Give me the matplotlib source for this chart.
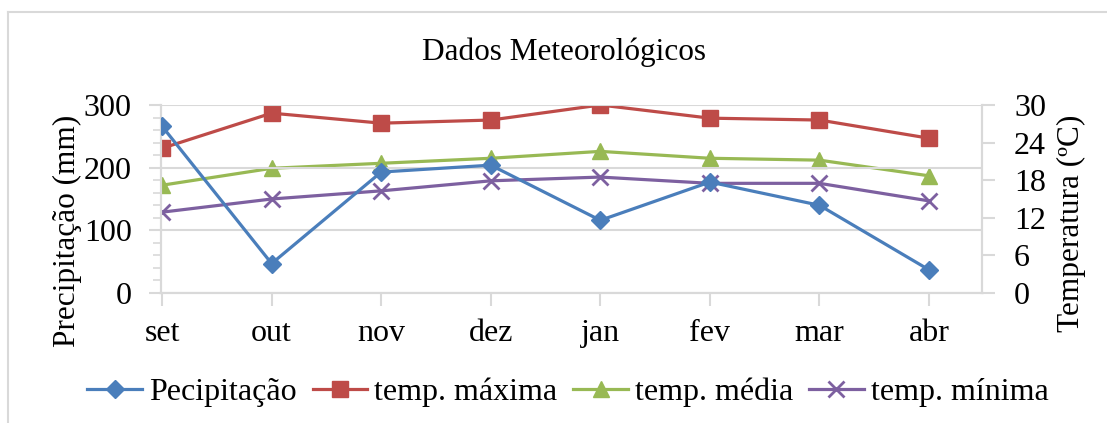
import numpy as np
import matplotlib.pyplot as plt
from matplotlib.ticker import MultipleLocator

# months and values
months = ['set', 'out', 'nov', 'dez', 'jan', 'fev', 'mar', 'abr']
precip = [266, 47, 193, 204, 116, 177, 140, 37]
temp_max = [23.1, 28.7, 27.1, 27.6, 30.0, 27.9, 27.6, 24.7]
temp_med = [17.2, 19.9, 20.7, 21.5, 22.6, 21.5, 21.2, 18.7]
temp_min = [12.9, 15.0, 16.3, 17.9, 18.5, 17.5, 17.5, 14.7]

plt.rcParams['font.family'] = ['Liberation Serif', 'DejaVu Serif']

W, H = 1107, 423
fig = plt.figure(figsize=(W / 100, H / 100), dpi=100)

# light grey frame, only left and top edges are visible in the reference
fig.add_artist(plt.Line2D([8 / W, 8 / W], [0, 1 - 12 / H], color='#D9D9D9', lw=1.5))
fig.add_artist(plt.Line2D([8 / W, 1], [1 - 12 / H, 1 - 12 / H], color='#D9D9D9', lw=1.5))

ax = fig.add_axes([161 / W, 1 - 293 / H, (982 - 161) / W, (293 - 105) / H])
ax2 = ax.twinx()

grid_col = '#D9D9D9'
fs = 23
x = np.arange(len(months))

ax.set_ylim(0, 300)
ax.yaxis.set_major_locator(MultipleLocator(100))
ax.yaxis.set_minor_locator(MultipleLocator(20))
ax.grid(axis='y', color=grid_col, lw=1.5)
ax.set_axisbelow(True)
ax2.set_ylim(0, 30)
ax2.set_yticks(range(0, 31, 6))
ax.set_xlim(-0.01, 7.484)
ax.set_xticks(x)
ax.set_xticklabels(months)

for a in (ax, ax2):
    a.spines['top'].set_visible(False)
    for s in ('left', 'right', 'bottom'):
        a.spines[s].set_color(grid_col)
        a.spines[s].set_linewidth(1.5)
    a.tick_params(which='major', length=9, width=1.5, color=grid_col, labelsize=fs)
    a.tick_params(which='minor', length=6, width=1.2, color=grid_col)
ax.tick_params(axis='x', pad=10)
ax.tick_params(axis='y', pad=12)
ax2.tick_params(axis='y', pad=14)

lw = 2.3
p1, = ax.plot(x, precip, color='#4A7EBB', lw=lw, marker='D', ms=9.5, label='Pecipitação', zorder=5)
p2, = ax2.plot(x, temp_max, color='#BE4B48', lw=lw, marker='s', ms=11, label='temp. máxima')
p3, = ax2.plot(x, temp_med, color='#98B954', lw=lw, marker='^', ms=11.5, label='temp. média')
p4, = ax2.plot(x, temp_min, color='#7D60A0', lw=lw, marker='x', ms=12, mew=2, label='temp. mínima')
ax.set_zorder(ax2.get_zorder() + 1)
ax.patch.set_visible(False)

ax.set_ylabel('Precipitação (mm)', fontsize=22.5)
ax.yaxis.set_label_coords((82 - 161) / 821, (293 - 231) / 188)
ax2.set_ylabel('Temperatura (ºC)', fontsize=22.5)
ax2.yaxis.set_label_coords((1057 - 161) / 821, (293 - 223) / 188)

fig.text(564 / W, 1 - 52 / H, 'Dados Meteorológicos', fontsize=22.5, ha='center', va='center')

fig.legend(handles=[p1, p2, p3, p4], loc='center', bbox_to_anchor=(568 / W, 1 - 392 / H),
           ncol=4, frameon=False, fontsize=23, handlelength=1.7, handletextpad=0.23,
           columnspacing=0.5, borderaxespad=0)

fig.savefig('out.png', dpi=100)
